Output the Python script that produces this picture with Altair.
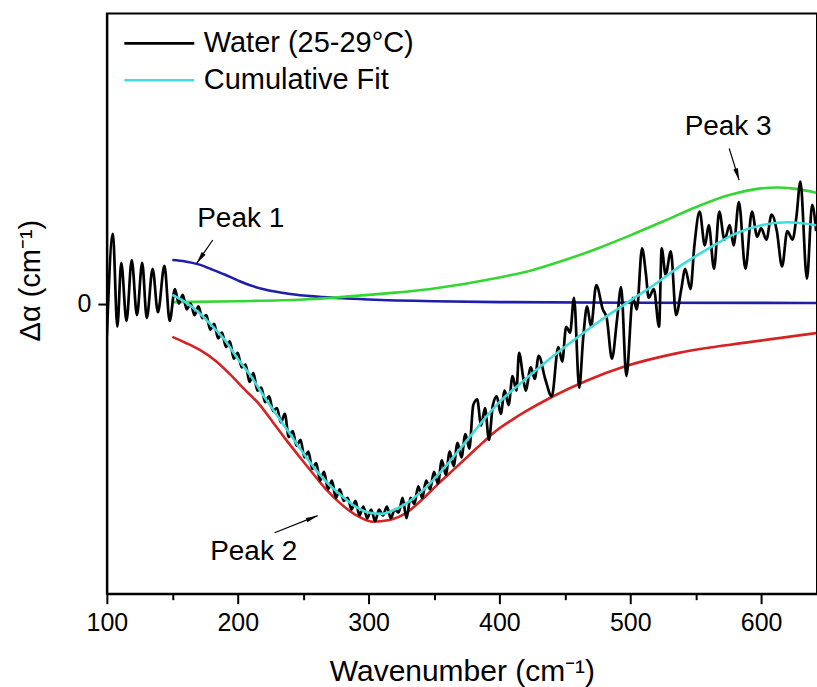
import altair as alt
import pandas as pd

# ---------------- data ----------------
SERIES = ["Water (25-29°C)", "Cumulative Fit"]

WATER_X = [100, 104.6, 108, 111, 115, 119, 123, 127, 130.5, 135, 139, 144, 148,
           152, 155, 158, 161, 164, 167, 170, 173, 176, 179, 182, 185, 188, 191, 194, 197,
           200, 203, 206, 209, 212, 215, 218, 221, 224, 227, 230, 233, 236, 239, 242, 245,
           248, 251, 254, 257, 260, 263, 266, 269, 272, 275, 278, 281, 284, 287, 290, 293,
           296, 299, 302, 305, 308, 311, 314, 317, 320, 323, 326, 329, 332, 335, 338, 341,
           344, 347, 350, 353, 356, 359, 362, 365, 368, 371, 374, 377, 380, 383, 386, 389,
           392, 395, 398, 401, 404, 407, 410, 413, 415, 418, 420, 424, 427, 430, 435, 440,
           445, 448, 451, 454, 457, 461, 464, 467, 470, 474, 479, 482, 486, 490, 493, 497,
           502, 505, 509, 512, 514, 518, 522, 524, 527, 531, 535, 539, 542, 546, 549, 553,
           557, 560, 564, 568, 572, 576, 579, 583, 588, 593, 597, 600, 604, 608, 612, 616,
           620, 624, 627, 630, 635, 639, 642]
WATER_Y = [-0.11, 0.24, -0.08, 0.14, -0.06, 0.15, -0.04, 0.14, -0.05, 0.12, -0.03, 0.13, -0.06,
           0.05, 0.0, 0.03, -0.02, 0.0, -0.04, -0.01, -0.05, -0.04, -0.09, -0.07, -0.12, -0.1, -0.15, -0.13, -0.19,
           -0.17, -0.22, -0.21, -0.27, -0.24, -0.3, -0.29, -0.34, -0.32, -0.37, -0.36, -0.41, -0.38, -0.46, -0.44, -0.49,
           -0.47, -0.53, -0.51, -0.57, -0.55, -0.61, -0.58, -0.64, -0.61, -0.67, -0.64, -0.68, -0.67, -0.71, -0.68, -0.73,
           -0.7, -0.74, -0.71, -0.75, -0.71, -0.73, -0.7, -0.74, -0.71, -0.72, -0.67, -0.74, -0.67, -0.69, -0.63, -0.67,
           -0.61, -0.64, -0.58, -0.62, -0.54, -0.59, -0.51, -0.56, -0.48, -0.53, -0.45, -0.5, -0.35, -0.33, -0.42, -0.36,
           -0.47, -0.35, -0.32, -0.38, -0.3, -0.35, -0.25, -0.3, -0.17, -0.25, -0.3, -0.22, -0.26, -0.18, -0.26, -0.32,
           -0.15, -0.2, -0.08, -0.1, 0.02, -0.29, -0.12, -0.01, -0.08, 0.064, -0.02, -0.05, -0.19, -0.05, 0.057, -0.25,
           0.02, -0.02, 0.19, 0.1, 0.02, 0.05, -0.08, 0.19, 0.1, 0.18, -0.04, 0.05, 0.12, 0.05, 0.2, 0.317,
           0.2, 0.27, 0.12, 0.317, 0.22, 0.27, 0.2, 0.35, 0.12, 0.317, 0.23, 0.26, 0.22, 0.307, 0.25, 0.128,
           0.25, 0.22, 0.3, 0.42, 0.086, 0.34, 0.25]

FIT_X = [150, 160, 170, 180, 190, 200, 210, 220, 230, 240, 250, 260, 270, 280, 290, 300, 310, 320,
         330, 340, 350, 360, 370, 380, 390, 400, 420, 440, 460, 480, 500, 520, 540, 560, 580, 600,
         620, 642]
FIT_Y = [0.03, 0.005, -0.03, -0.075, -0.125, -0.19, -0.25, -0.32, -0.385, -0.45, -0.515, -0.575,
         -0.625, -0.665, -0.7, -0.72, -0.725, -0.71, -0.685, -0.65, -0.605, -0.555, -0.5, -0.445,
         -0.39, -0.34, -0.26, -0.185, -0.115, -0.05, 0.01, 0.07, 0.135, 0.19, 0.24, 0.27, 0.28, 0.27]

PEAK1_X = [150, 160, 170, 180, 190, 200, 210, 220, 240, 260, 280, 300, 350, 400, 500, 642]
PEAK1_Y = [0.15, 0.145, 0.135, 0.118, 0.1, 0.08, 0.062, 0.049, 0.033, 0.024, 0.018, 0.014,
           0.008, 0.005, 0.003, 0.002]

PEAK2_X = [150, 160, 171, 183, 194, 205, 217, 227, 237, 247, 257, 267, 278, 290, 303, 316, 329,
           341, 354, 366, 377, 388, 398, 410, 420, 440, 467, 495, 537, 591, 642]
PEAK2_Y = [-0.115, -0.135, -0.16, -0.197, -0.243, -0.295, -0.35, -0.41, -0.47, -0.527, -0.583,
           -0.638, -0.687, -0.728, -0.752, -0.746, -0.721, -0.675, -0.618, -0.568, -0.522, -0.476,
           -0.437, -0.4, -0.372, -0.322, -0.265, -0.218, -0.17, -0.133, -0.102]

PEAK3_X = [150, 200, 250, 300, 350, 400, 425, 450, 475, 500, 525, 550, 575, 600, 612, 625, 642]
PEAK3_Y = [0.005, 0.008, 0.014, 0.03, 0.052, 0.09, 0.115, 0.15, 0.19, 0.235, 0.283, 0.332,
           0.373, 0.397, 0.4, 0.396, 0.382]

X_TICKS = [100, 150, 200, 250, 300, 350, 400, 450, 500, 550, 600]
Y_TICKS = [0]

PEAK_LABELS = ["Peak 1", "Peak 2", "Peak 3"]
LABEL_X = [202.3, 212.2, 574.8]
LABEL_Y = [0.291, -0.855, 0.608]
ARROW_X0 = [180.9, 228.2, 575.6]
ARROW_Y0 = [0.219, -0.790, 0.535]
ARROW_X1 = [168.7, 261.1, 583.2]
ARROW_Y1 = [0.139, -0.731, 0.425]
ARROW_ANGLE = [215, 68, 163]

# ---------------- chart ----------------
FONT = "Liberation Sans"
X_DOMAIN = [100, 642.7]

x_axis = alt.Axis(
    values=X_TICKS, title="Wavenumber (cm⁻¹)", grid=False,
    labelExpr="datum.value % 100 === 0 ? datum.label : ''",
    tickSize={"condition": {"test": "datum.value % 100 === 0", "value": 10}, "value": 6},
    labelFontSize=25, labelFont=FONT, labelColor="black", labelPadding=7,
    titleFontSize=30, titleFont=FONT, titleFontWeight="normal", titleColor="black",
    titleBaseline="alphabetic", titleY=87,
    domainColor="black", domainWidth=2, tickColor="black", tickWidth=2,
    labelOverlap=False, labelFlush=False,
)
y_axis = alt.Axis(
    values=Y_TICKS, title="Δα (cm⁻¹)", grid=False, tickSize=9,
    labelFontSize=25, labelFont=FONT, labelColor="black", labelPadding=7,
    titleFontSize=29, titleFont=FONT, titleFontWeight="normal", titleColor="black",
    titleAngle=270, titleX=-76, titleY=267, titleAlign="center", titleBaseline="middle",
    domainColor="black", domainWidth=2, tickColor="black", tickWidth=2,
)

xs = alt.Scale(domain=X_DOMAIN, nice=False, zero=False)
ys = alt.Scale(domain=[-1, 1], nice=False, zero=False)
X = alt.X("x:Q", scale=xs, axis=x_axis)
Y = alt.Y("y:Q", scale=ys, axis=y_axis)

water = pd.DataFrame({"x": WATER_X, "y": WATER_Y, "series": SERIES[0]})
fit = pd.DataFrame({"x": FIT_X, "y": FIT_Y, "series": SERIES[1]})
p1 = pd.DataFrame({"x": PEAK1_X, "y": PEAK1_Y})
p2 = pd.DataFrame({"x": PEAK2_X, "y": PEAK2_Y})
p3 = pd.DataFrame({"x": PEAK3_X, "y": PEAK3_Y})
ann = pd.DataFrame({"x": LABEL_X, "y": LABEL_Y, "text": PEAK_LABELS})
arrows = pd.DataFrame({"x": ARROW_X0, "y": ARROW_Y0, "x2": ARROW_X1, "y2": ARROW_Y1})
heads = pd.DataFrame({"x": ARROW_X1, "y": ARROW_Y1, "angle": ARROW_ANGLE})

color = alt.Color(
    "series:N",
    scale=alt.Scale(domain=SERIES, range=["#000000", "#40DCDC"]),
    legend=alt.Legend(
        title=None, orient="none", legendX=16, legendY=11.5,
        symbolType="stroke", symbolSize=4900, symbolStrokeWidth=2.6,
        labelFontSize=29, labelFont=FONT, labelColor="black", labelOffset=8,
        clipHeight=37, rowPadding=0, padding=0, labelLimit=500,
    ),
)

l_p1 = alt.Chart(p1).mark_line(color="#1E1EA8", strokeWidth=2.6, interpolate="monotone", clip=True).encode(x=X, y=Y)
l_p2 = alt.Chart(p2).mark_line(color="#D62222", strokeWidth=2.6, interpolate="monotone", clip=True).encode(x=X, y=Y)
l_p3 = alt.Chart(p3).mark_line(color="#33D633", strokeWidth=2.6, interpolate="monotone", clip=True).encode(x=X, y=Y)
l_water = alt.Chart(water).mark_line(strokeWidth=2.7, interpolate="monotone", clip=True).encode(x=X, y=Y, color=color)
l_fit = alt.Chart(fit).mark_line(strokeWidth=2.6, interpolate="monotone", clip=True).encode(x=X, y=Y, color=color)
l_text = alt.Chart(ann).mark_text(font=FONT, fontSize=28, color="black").encode(x=X, y=Y, text="text:N")
l_arrow = alt.Chart(arrows).mark_rule(color="black", strokeWidth=1.2).encode(x=X, y=Y, x2="x2:Q", y2="y2:Q")
l_head = alt.Chart(heads).mark_point(
    shape="M0,0L-0.4,2L0.4,2Z", filled=True, size=144, color="black", opacity=1, strokeWidth=0
).encode(x=X, y=Y, angle=alt.Angle("angle:Q", scale=None))

chart = alt.layer(l_p1, l_p2, l_p3, l_water, l_fit, l_text, l_arrow, l_head).properties(
    width=711, height=581,
    padding={"left": 107, "top": 13, "right": 0, "bottom": 93},
    autosize="none",
    background="white",
).configure_view(stroke="black", strokeWidth=2)

chart.save("out.html", embed_options={"renderer": "svg", "actions": False})
